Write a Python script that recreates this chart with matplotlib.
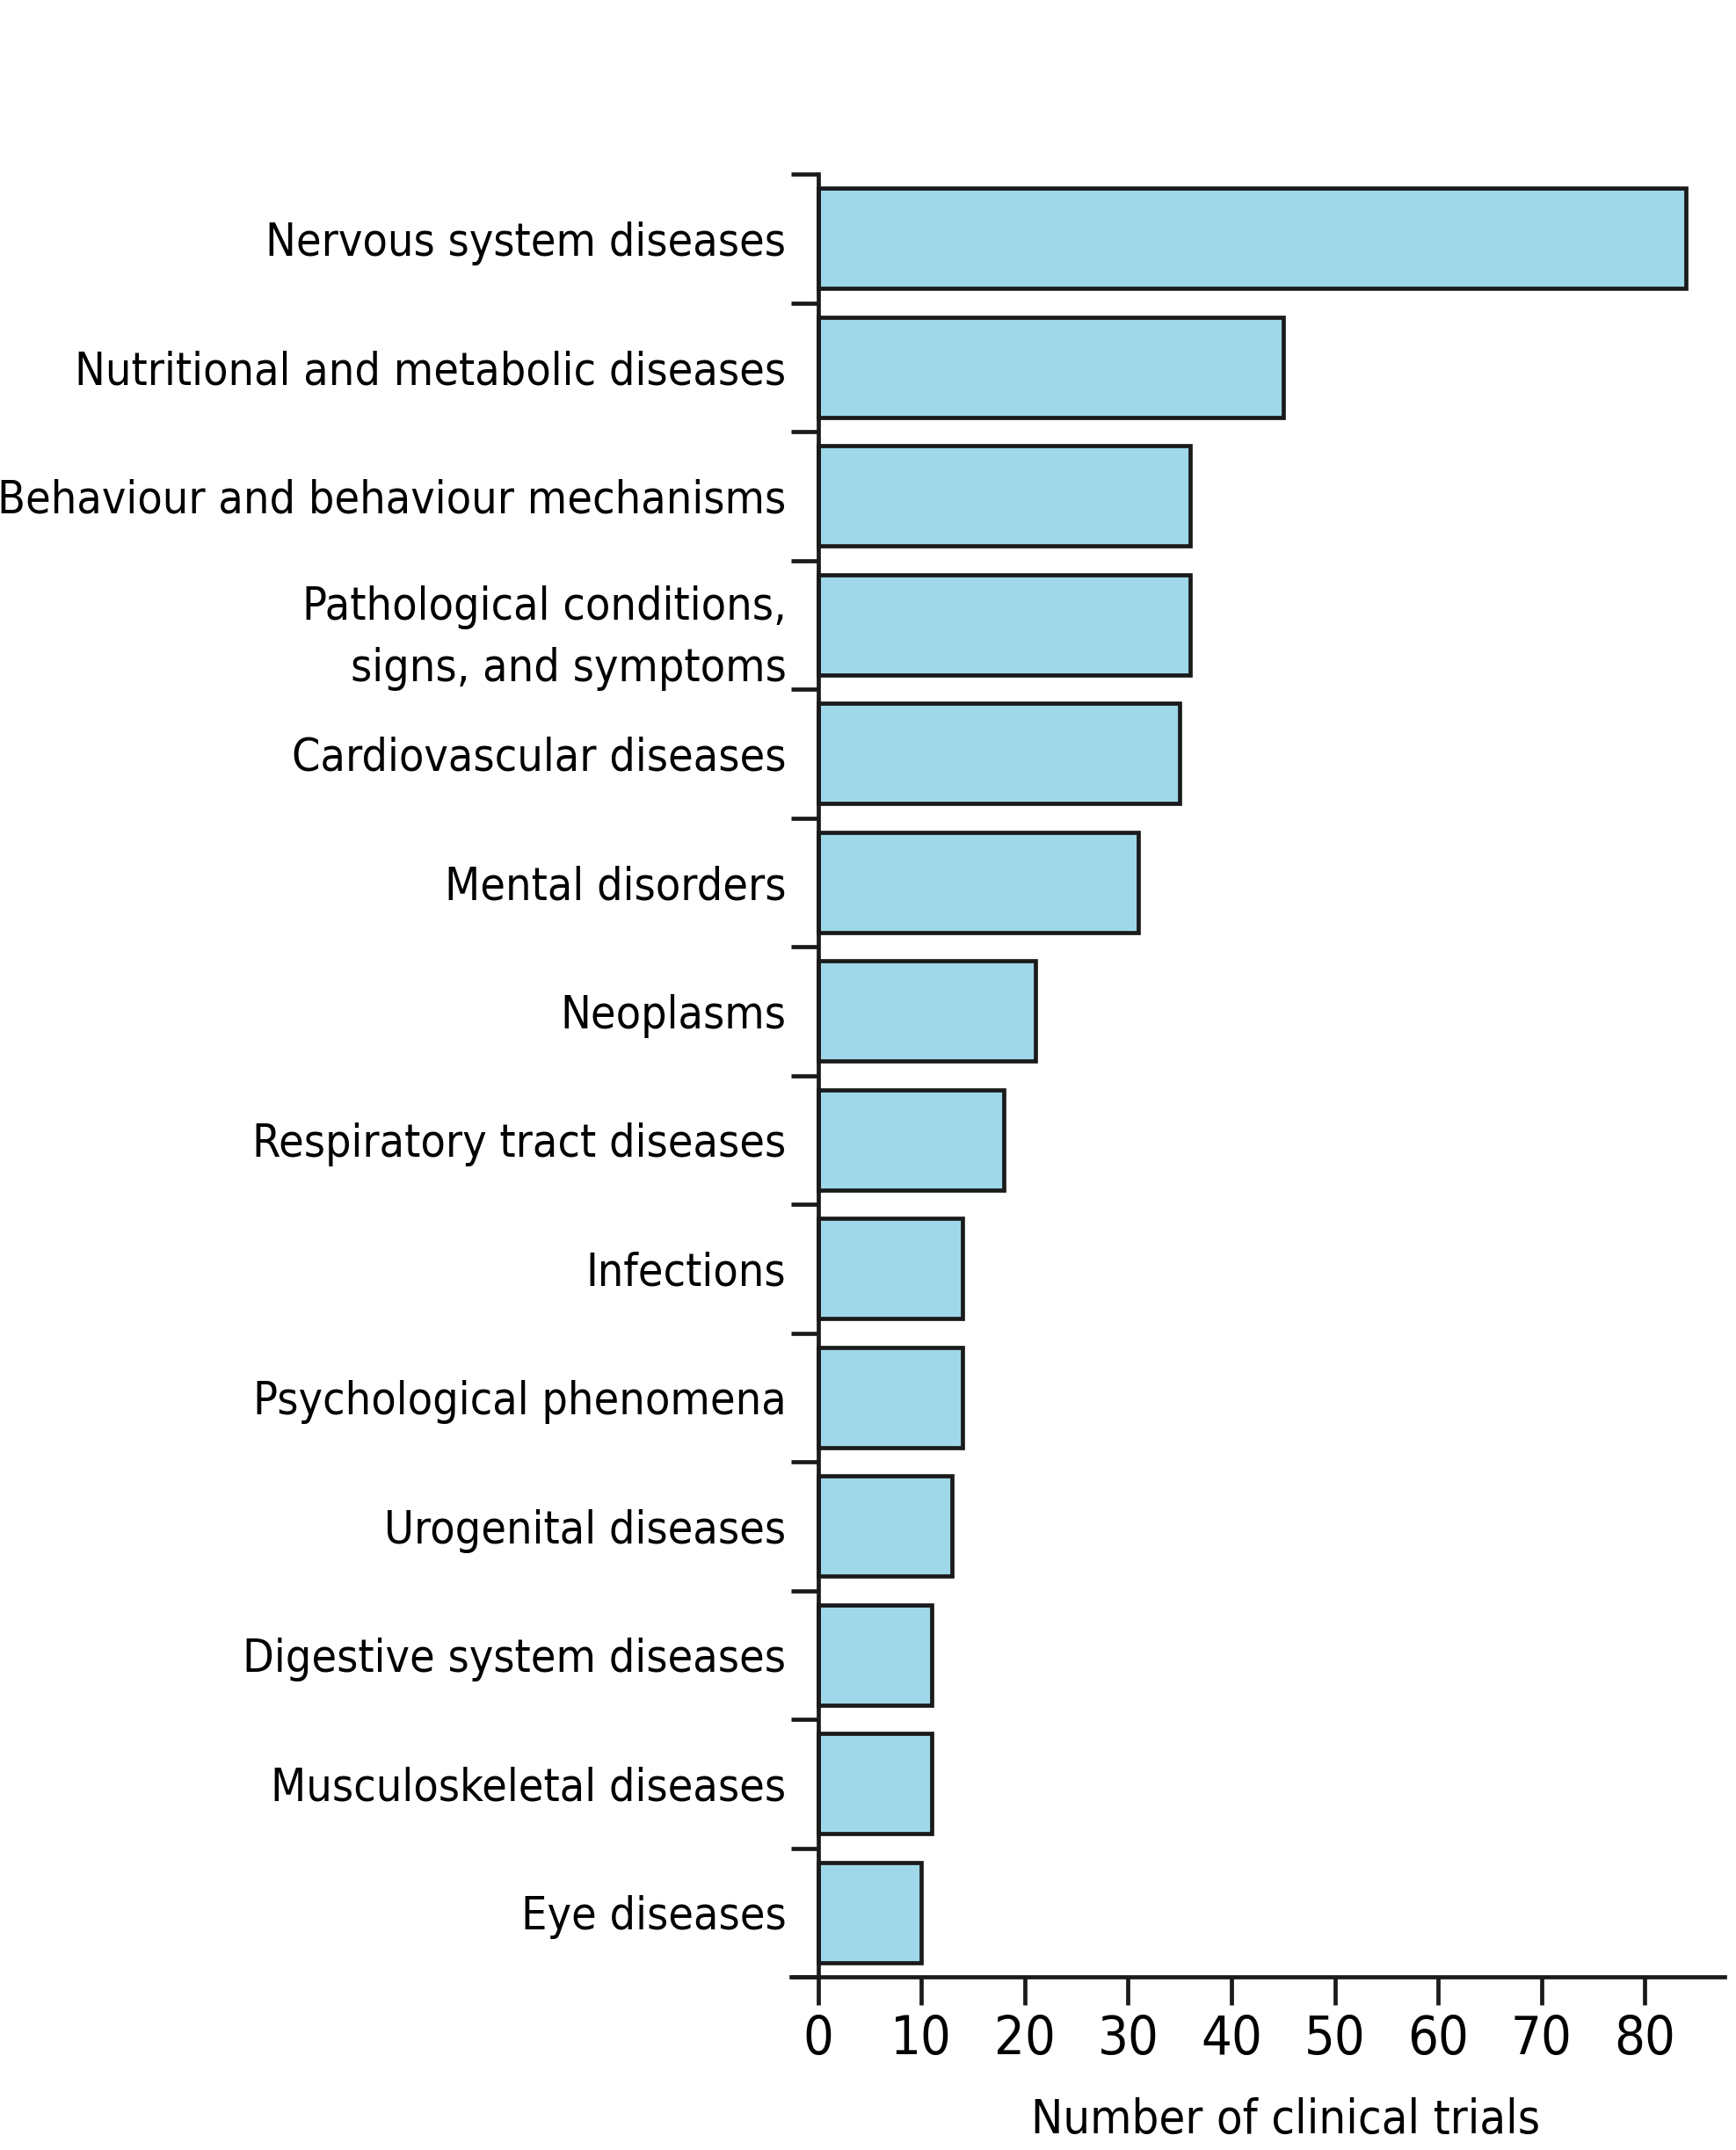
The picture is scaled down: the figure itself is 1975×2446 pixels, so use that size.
"""Clinical trials by disease category – horizontal bar chart"""
import matplotlib as mpl
mpl.use('Agg')
import matplotlib.pyplot as plt
import numpy as np

mpl.rcParams.update({
    'font.family': ['DejaVu Sans'],
    'font.stretch': 'condensed',
    'font.size': 38,
    'axes.spines.right': False,
    'axes.spines.top': False,
})

CATEGORIES = [
    'Nervous system diseases',
    'Nutritional and metabolic diseases',
    'Behaviour and behaviour mechanisms',
    'Pathological conditions,\nsigns, and symptoms',
    'Cardiovascular diseases',
    'Mental disorders',
    'Neoplasms',
    'Respiratory tract diseases',
    'Infections',
    'Psychological phenomena',
    'Urogenital diseases',
    'Digestive system diseases',
    'Musculoskeletal diseases',
    'Eye diseases',
]
TRIALS = [84, 45, 36, 36, 35, 31, 21, 18, 14, 14, 13, 11, 11, 10]
X_TICKS = [0, 10, 20, 30, 40, 50, 60, 70, 80]

BAR_COLOR = '#9fd8e9'
EDGE = '#1a1a1a'
LW = 3.4

W, H = 1975, 2446
fig = plt.figure(figsize=(W / 100, H / 100), dpi=100)
ax = fig.add_axes([900 / W, (H - 2249) / H, (1962 - 900) / W, (2249 - 198) / H])

y = np.arange(len(CATEGORIES))
ax.barh(y, TRIALS, height=0.78, color=BAR_COLOR, edgecolor=EDGE, linewidth=LW)

ax.set_xlim(-2.6, 87.7)
ax.set_ylim(len(CATEGORIES) - 0.5, -0.5)

ax.spines['left'].set_position(('data', 0))
for s in ('left', 'bottom'):
    ax.spines[s].set_linewidth(LW)
    ax.spines[s].set_color(EDGE)

# category labels at bar centres, tick marks at boundaries
ax.set_yticks(y)
ax.set_yticklabels(CATEGORIES, ha='right', fontsize=37.3)
for lbl in ax.get_yticklabels():
    if '\n' in lbl.get_text():
        lbl.set_linespacing(1.5)
ax.tick_params(axis='y', which='major', length=0, pad=26)
ax.set_yticks(np.arange(-0.5, len(CATEGORIES), 1.0), minor=True)
ax.tick_params(axis='y', which='minor', length=22, width=LW, color=EDGE)

ax.set_xticks(X_TICKS)
ax.tick_params(axis='x', length=23, width=LW, color=EDGE, pad=7, labelsize=44)

ax.set_xlabel('Number of clinical trials', fontsize=39)
ax.xaxis.set_label_coords(0.53, -0.0795)
ax.xaxis.label.set_va('center')

fig.savefig('out.png', dpi=100)
